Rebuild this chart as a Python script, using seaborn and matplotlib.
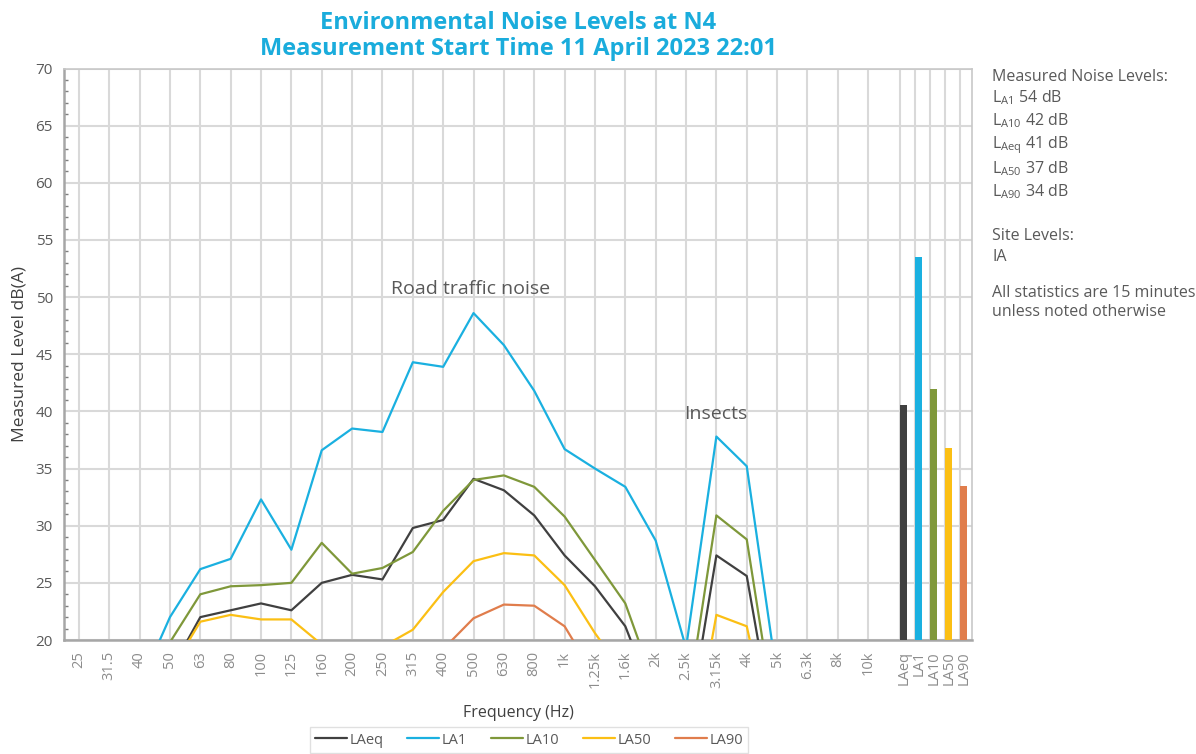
import numpy as np
import pandas as pd
import matplotlib
matplotlib.use("Agg")
import matplotlib.pyplot as plt
import seaborn as sns

# ---------------- data ----------------
bands = ["25", "31.5", "40", "50", "63", "80", "100", "125", "160", "200", "250",
         "315", "400", "500", "630", "800", "1k", "1.25k", "1.6k", "2k", "2.5k",
         "3.15k", "4k", "5k", "6.3k", "8k", "10k"]
LAeq = [12, 13, 14, 17.2, 22.0, 22.6, 23.2, 22.6, 25.0, 25.7, 25.3, 29.8, 30.5, 34.1,
        33.1, 30.9, 27.4, 24.7, 21.2, 14.4, 11.3, 27.4, 25.6, 10.5, 9, 8, 7]
LA1 = [15, 15.5, 16.0, 22.0, 26.2, 27.1, 32.3, 27.9, 36.6, 38.5, 38.2, 44.3, 43.9, 48.6,
       45.8, 41.8, 36.7, 35.0, 33.4, 28.7, 19.3, 37.8, 35.2, 16.7, 14, 13, 12]
LA10 = [14, 15, 16, 19.8, 24.0, 24.7, 24.8, 25.0, 28.5, 25.8, 26.3, 27.7, 31.3, 34.0,
        34.4, 33.4, 30.8, 27.0, 23.2, 15.8, 13.6, 30.9, 28.8, 11.9, 11, 10, 9]
LA50 = [10, 11, 12, 17.2, 21.6, 22.2, 21.8, 21.8, 19.6, 18.8, 19.4, 20.9, 24.2, 26.9,
        27.6, 27.4, 24.8, 20.6, 16.9, 9, 7.5, 22.2, 21.2, 9.2, 7, 6, 5]
LA90 = [8, 9, 10, 12, 15, 16, 16, 15.5, 16, 17, 17.5, 18, 19.2, 21.9, 23.1, 23.0,
        21.2, 16.8, 14, 10, 8, 17, 16, 7, 6, 5, 4]
series_names = ["LAeq", "LA1", "LA10", "LA50", "LA90"]
overall = [40.6, 53.5, 42.0, 36.8, 33.5]   # overall levels (bars)
colors = ["#404040", "#1AB0E0", "#7F983A", "#FBBF14", "#E07D4C"]

title = "Environmental Noise Levels at N4\nMeasurement Start Time 11 April 2023 22:01"
notes_head = "Measured Noise Levels:"
notes_levels = [("A1", 54), ("A10", 42), ("Aeq", 41), ("A50", 37), ("A90", 34)]
notes_tail = ["Site Levels:", "IA", "All statistics are 15 minutes", "unless noted otherwise"]

# ---------------- styling ----------------
sns.set_theme(style="white")
plt.rcParams["font.family"] = ["Open Sans", "DejaVu Sans"]
plt.rcParams["mathtext.fontset"] = "custom"
plt.rcParams["mathtext.rm"] = "Open Sans"

TXT = "#595959"
GRID = "#D9D9D9"

fig = plt.figure(figsize=(11.96, 7.54), dpi=100)
ax = fig.add_axes([64 / 1196, 1 - 640 / 754, (972 - 64) / 1196, (640 - 68.5) / 754])

# long-form table for the lines
xpos = np.arange(len(bands))
all_vals = [LAeq, LA1, LA10, LA50, LA90]
df = pd.concat([pd.DataFrame({"x": xpos, "level": v, "series": n})
                for n, v in zip(series_names, all_vals)], ignore_index=True)

sns.lineplot(data=df, x="x", y="level", hue="series", hue_order=series_names,
             palette=colors, linewidth=1.6, ax=ax, legend=True, zorder=3)

# overall level bars to the right of the spectrum
slot = 0.495
bar_w = 0.24
first_edge = len(bands) + 0.05
bar_edges = first_edge + slot * np.arange(len(overall))
ax.bar(bar_edges, overall, width=bar_w, align="edge", color=colors, zorder=3,
       linewidth=0)
bar_centers = bar_edges + bar_w / 2

ax.set_xlim(-0.49, 29.42)
ax.set_ylim(20, 70)

# ticks and grid
ax.xaxis.remove_overlapping_locs = False
ax.set_xticks(list(xpos) + list(bar_centers))
ax.set_xticklabels(bands + series_names, rotation=90, color="#8C8C8C", fontsize=10.5)
ax.set_xticks(list(xpos) + list(bar_edges), minor=True)
ax.tick_params(axis="x", which="both", length=0, pad=8)
ax.grid(False)
ax.grid(True, axis="x", which="minor", color=GRID, linewidth=1.5, zorder=0)
ax.set_yticks(np.arange(20, 71, 5))
ax.set_yticks(np.arange(20, 71, 1), minor=True)
ax.grid(True, axis="y", which="major", color=GRID, linewidth=1.5, zorder=0)
ax.tick_params(axis="y", which="major", length=0, labelsize=11, labelcolor=TXT, pad=8)
ax.tick_params(axis="y", which="minor", length=3, direction="in", color="#7F7F7F", left=True)
ax.set_axisbelow(True)

for s in ax.spines.values():
    s.set_color("#C8C8C8")
    s.set_linewidth(1.2)
ax.spines["left"].set_color("#A6A6A6")
ax.spines["left"].set_linewidth(1.8)
ax.spines["bottom"].set_color("#A6A6A6")
ax.spines["bottom"].set_linewidth(1.8)

ax.set_xlabel("Frequency (Hz)", fontsize=11.5, color="#404040", labelpad=12)
ax.set_ylabel("Measured Level dB(A)", fontsize=12.5, color="#404040", labelpad=6)

ax.set_title(title, fontsize=17, fontweight="bold", color="#1AACDC", pad=10,
             linespacing=1.1)

# annotations
ax.text(10.28, 50.7, "Road traffic noise", fontsize=14, color=TXT, va="center", ha="left")
ax.text(19.93, 39.8, "Insects", fontsize=14, color=TXT, va="center", ha="left")

# legend
handles, labels = ax.get_legend_handles_labels()
ax.get_legend().remove()
leg = fig.legend(handles, labels, loc="center", bbox_to_anchor=(529 / 1196, 1 - 740 / 754),
                 ncol=5, frameon=True, fontsize=10.5, handlelength=2.2, columnspacing=1.6,
                 handletextpad=0.2, borderpad=0.35, fancybox=False)
leg.get_frame().set_edgecolor("#D9D9D9")
leg.get_frame().set_linewidth(1.0)
for t in leg.get_texts():
    t.set_color(TXT)

# side notes
x0 = 992 / 1196
fig.text(x0, 1 - 77 / 754, notes_head, fontsize=11.5, color=TXT, va="center")
ys = [98, 121, 145, 169, 192]
for (sub, val), yy in zip(notes_levels, ys):
    fig.text(x0, 1 - yy / 754, r"L$_{\mathregular{%s}}$ %d dB" % (sub, val),
             fontsize=11.5, color=TXT, va="center")
for txt, yy in zip(notes_tail, [236, 257, 293, 312]):
    fig.text(x0, 1 - yy / 754, txt, fontsize=11.5, color=TXT, va="center")

fig.savefig("out.png", dpi=100)
